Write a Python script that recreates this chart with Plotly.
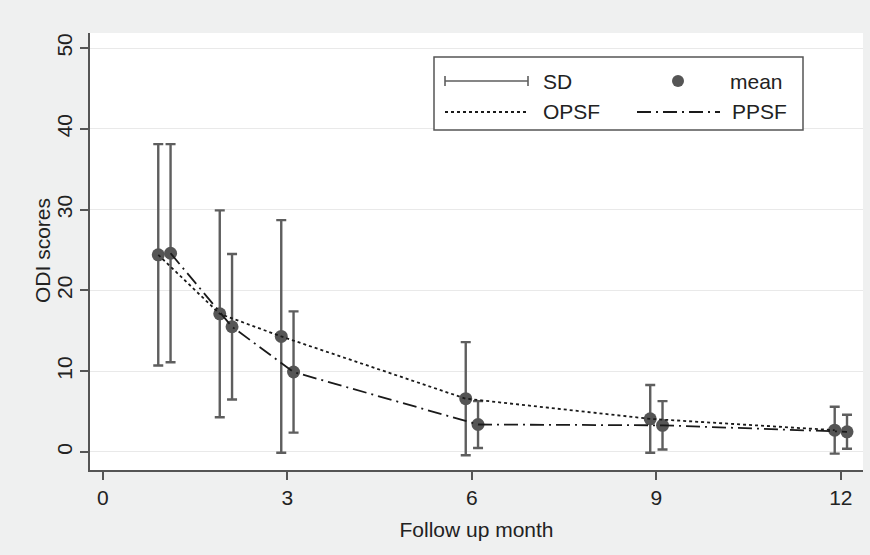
import plotly.graph_objects as go

# ---------------- data ----------------
months = [1, 2, 3, 6, 9, 12]
opsf_mean = [24.4, 17.1, 14.3, 6.6, 4.1, 2.7]
opsf_sd = [13.7, 12.8, 14.4, 7.0, 4.2, 2.9]
ppsf_mean = [24.6, 15.5, 9.9, 3.4, 3.3, 2.5]
ppsf_sd = [13.5, 9.0, 7.5, 2.9, 3.0, 2.1]
x_ticks = [0, 3, 6, 9, 12]
y_ticks = [0, 10, 20, 30, 40, 50]
legend_labels = ["SD", "mean", "OPSF", "PPSF"]
y_title = "ODI scores"
x_title = "Follow up month"

offset = 0.1
opsf_x = [m - offset for m in months]
ppsf_x = [m + offset for m in months]

FONT = "Liberation Sans, Arial, Helvetica, sans-serif"
BAR = "#5e5e5e"
DOT = "#555555"
DASHDOT = "14px,5px,2px,5px"
BG = "#eff0f0"
TXT = "#222222"

fig = go.Figure()

for xs, ys, sd in [(opsf_x, opsf_mean, opsf_sd), (ppsf_x, ppsf_mean, ppsf_sd)]:
    fig.add_trace(go.Scatter(
        x=xs, y=ys, mode="markers",
        marker=dict(size=13, color=DOT),
        error_y=dict(type="data", array=sd, symmetric=True,
                     color=BAR, thickness=2.4, width=5),
        showlegend=False, hoverinfo="skip"))

fig.add_trace(go.Scatter(x=opsf_x, y=opsf_mean, mode="lines",
                         line=dict(color="#1a1a1a", width=1.8, dash="dot"),
                         showlegend=False))
fig.add_trace(go.Scatter(x=ppsf_x, y=ppsf_mean, mode="lines",
                         line=dict(color="#1a1a1a", width=1.8, dash=DASHDOT),
                         showlegend=False))

# ---------------- manual legend (paper coords) ----------------
L, T, W, H = 90, 33, 773, 437


def px(xp):
    return (xp - L) / W


def py(yp):
    return (T + H - yp) / H


shapes = []
shapes.append(dict(type="rect", xref="paper", yref="paper",
                   x0=px(434), x1=px(803), y0=py(130), y1=py(57),
                   line=dict(color="#555555", width=1.5), fillcolor="white"))
r1, r2 = 81, 112
# SD symbol
shapes.append(dict(type="line", xref="paper", yref="paper",
                   x0=px(445), x1=px(528), y0=py(r1), y1=py(r1),
                   line=dict(color=BAR, width=1.6)))
for xx in (445, 528):
    shapes.append(dict(type="line", xref="paper", yref="paper",
                       x0=px(xx), x1=px(xx), y0=py(r1 - 5), y1=py(r1 + 5),
                       line=dict(color=BAR, width=1.6)))
# mean dot
shapes.append(dict(type="circle", xref="paper", yref="paper",
                   x0=px(672), x1=px(684), y0=py(r1 + 6), y1=py(r1 - 6),
                   line=dict(color=DOT, width=0), fillcolor=DOT))
# OPSF dotted
shapes.append(dict(type="line", xref="paper", yref="paper",
                   x0=px(445), x1=px(527), y0=py(r2), y1=py(r2),
                   line=dict(color="#1a1a1a", width=1.8, dash="dot")))
# PPSF dashdot
shapes.append(dict(type="line", xref="paper", yref="paper",
                   x0=px(637), x1=px(720), y0=py(r2), y1=py(r2),
                   line=dict(color="#1a1a1a", width=1.8, dash=DASHDOT)))

annotations = []
for text, xx, yy, anchor in [(legend_labels[0], 541, r1, "left"),
                             (legend_labels[1], 785, r1, "right"),
                             (legend_labels[2], 541, r2, "left"),
                             (legend_labels[3], 789, r2, "right")]:
    annotations.append(dict(text=text, xref="paper", yref="paper",
                            x=px(xx), y=py(yy), xanchor=anchor, yanchor="middle",
                            showarrow=False,
                            font=dict(family=FONT, size=21, color=TXT)))
# y-axis title
annotations.append(dict(text=y_title, xref="paper", yref="paper",
                        x=px(43), y=py(251), xanchor="center", yanchor="middle",
                        textangle=-90, showarrow=False,
                        font=dict(family=FONT, size=21, color=TXT)))

fig.update_layout(
    width=870, height=555,
    margin=dict(l=L, r=870 - L - W, t=T, b=555 - T - H),
    paper_bgcolor=BG, plot_bgcolor="white",
    font=dict(family=FONT, color=TXT),
    shapes=shapes, annotations=annotations,
    showlegend=False,
)
fig.update_xaxes(
    range=[-0.21, 12.36], tickvals=x_ticks, ticktext=[str(v) for v in x_ticks],
    showgrid=False, zeroline=False, showline=True, linecolor="#555555", linewidth=1.5,
    ticks="outside", ticklen=8, tickwidth=1.5, tickcolor="#555555",
    tickfont=dict(size=21, family=FONT, color=TXT),
    title=dict(text=x_title, font=dict(size=21, family=FONT, color=TXT),
               standoff=14),
)
fig.update_yaxes(
    range=[-2.23, 51.86], tickvals=y_ticks, ticktext=[str(v) for v in y_ticks],
    showgrid=True, gridcolor="#e9e9e9", gridwidth=1, zeroline=False,
    showline=True, linecolor="#555555", linewidth=1.5,
    ticks="outside", ticklen=8, tickwidth=1.5, tickcolor="#555555",
    tickangle=-90, ticklabelstandoff=0,
    tickfont=dict(size=21, family=FONT, color=TXT),
)

fig.write_html(
    "out.html",
    config={"displayModeBar": False},
    post_script=("document.body.style.margin='0';"
                 "document.body.style.background='" + BG + "';"),
)
